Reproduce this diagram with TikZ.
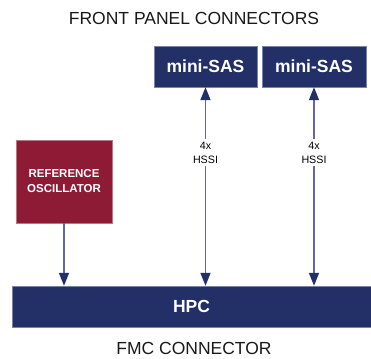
\documentclass[tikz,border=0pt]{standalone}
\usepackage{fontspec}
\setmainfont{Liberation Sans}
\usepackage{xcolor}
\usepackage{tikz}
\usetikzlibrary{arrows.meta, calc}
\definecolor{fmcnavy}{HTML}{233068}
\definecolor{fmcred}{HTML}{8E1B35}
\definecolor{fmcline}{HTML}{6464A8}
\tikzset{
    navybox/.style={draw=fmcnavy!60, fill=fmcnavy, text=white, font=\fontsize{17.5}{20}\selectfont\bfseries, inner sep=0pt},
    oscbox/.style={draw=fmcred!60, fill=fmcred, text=white, font=\fontsize{11.5}{15}\selectfont\bfseries, align=center, minimum width=96pt, minimum height=83pt, inner sep=0pt},
    link/.style={draw=fmcline, line width=1.6pt, {Triangle[length=13pt, width=10pt, color=fmcnavy]}-{Triangle[length=13pt, width=10pt, color=fmcnavy]}},
    downlink/.style={draw=fmcline, line width=1.6pt, -{Triangle[length=13pt, width=10pt, color=fmcnavy]}},
    lanes/.style={fill=white, font=\fontsize{10.7}{14}\selectfont, align=center, inner sep=3pt},
    heading/.style={font=\fontsize{17.5}{20}\selectfont, text=black!90}
}
\begin{document}
\begin{tikzpicture}[x=1pt, y=-1pt]
    \useasboundingbox (0,0) rectangle (371,358);
    \node[heading] (front) at (194,18) {FRONT PANEL CONNECTORS};
    \node[navybox, minimum width=103pt, minimum height=41pt] (sas1) at (205.5,66.5) {mini-SAS};
    \node[navybox, minimum width=104pt, minimum height=41pt] (sas2) at (314,66.5) {mini-SAS};
    \node[oscbox] (osc) at (64,181.5) {REFERENCE\\OSCILLATOR};
    \node[navybox, minimum width=359pt, minimum height=41pt] (hpc) at (191.5,306.5) {HPC};
    \node[heading] (fmc) at (194,348) {FMC CONNECTOR};
    \draw[link] (sas1.south) -- (sas1.south |- hpc.north) node[lanes, pos=0.33] (hssi1) {4x\\HSSI};
    \draw[link] (sas2.south) -- (sas2.south |- hpc.north) node[lanes, pos=0.33] (hssi2) {4x\\HSSI};
    \draw[downlink] (osc.south) -- (osc.south |- hpc.north);
\end{tikzpicture}
\end{document}
